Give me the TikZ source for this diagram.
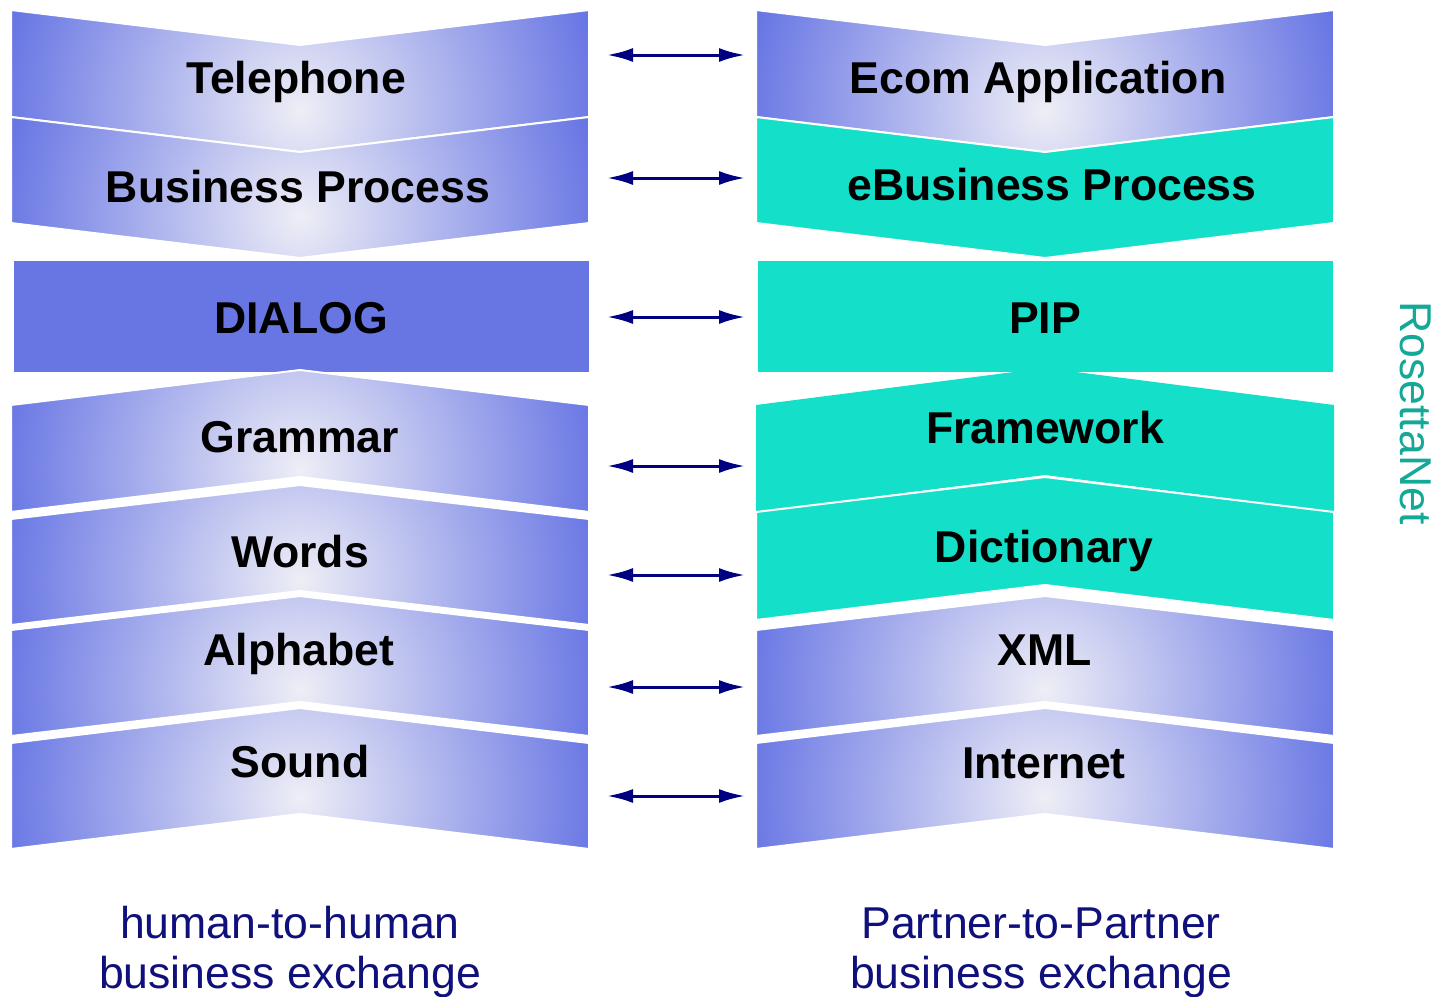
\documentclass[tikz,border=0pt]{standalone}
\usepackage{fontspec}
\setmainfont{Liberation Sans}
\usetikzlibrary{arrows.meta}
\definecolor{layerblue}{RGB}{104,118,228}
\definecolor{layerlight}{RGB}{238,238,246}
\definecolor{rnteal}{RGB}{20,224,202}
\definecolor{rntext}{RGB}{20,168,150}
\definecolor{linknavy}{RGB}{0,0,128}
\definecolor{capblue}{RGB}{16,16,124}
\pgfdeclareradialshading{layershade}{\pgfpoint{0bp}{0bp}}%
  {color(0bp)=(layerlight); color(25bp)=(layerblue); color(50bp)=(layerblue)}
\tikzset{
  lbl/.style={anchor=base, font=\fontsize{22.3}{26}\selectfont\bfseries},
  caption/.style={anchor=base, align=center, text=capblue,
    font=\fontsize{22.3}{25}\selectfont},
  link/.style={linknavy, line width=1.5pt,
    {Latex[length=13pt,width=7pt]}-{Latex[length=13pt,width=7pt]}},
  sep/.style={draw=white, line width=1pt},
}
% chevron band: left x, side top, side bottom, apex shift
\newcommand\bandpath[4]{(#1,#2) -- ++(289,#4) -- ++(289,-#4) -- (#1+578,#3)
  -- ++(-289,#4) -- ++(-289,-#4) -- cycle}
% shaded band: same, plus centre y of the shading
\newcommand\shadedband[5]{%
  \fill[layerblue] \bandpath{#1}{#2}{#3}{#4};
  \begin{scope}
    \clip \bandpath{#1}{#2}{#3}{#4};
    \shade[shading=layershade] (#1-11,#5-300) rectangle (#1+589,#5+300);
  \end{scope}
  \draw[sep] \bandpath{#1}{#2}{#3}{#4};}

\begin{document}
\begin{tikzpicture}[x=0.5pt, y=-0.5pt]
\useasboundingbox (0,0) rectangle (1437,997);

% human side
\shadedband{11}{10}{117}{35}{110}
\shadedband{11}{117}{223}{35}{216}
\fill[layerblue] (14,261) rectangle (589,372);
\shadedband{11}{405}{512}{-35}{470}
\shadedband{11}{519}{625}{-34}{580}
\shadedband{11}{630}{736}{-34}{690}
\shadedband{11}{743}{849}{-35}{797}

% partner side
\shadedband{756}{10}{117}{35}{110}
\fill[rnteal, sep] \bandpath{756}{117}{223}{35};
\fill[rnteal] (758,261) rectangle (1333,372);
\fill[rnteal] \bandpath{756}{405}{512}{-37};
\fill[rnteal, sep] \bandpath{756}{512}{620}{-35};
\shadedband{756}{630}{736}{-34}{690}
\shadedband{756}{743}{849}{-35}{797}

\node[lbl] (tel) at (296,93) {Telephone};
\node[lbl] (bp) at (298,202) {Business Process};
\node[lbl] (dialog) at (301,333) {DIALOG};
\node[lbl] (gram) at (300,452) {Grammar};
\node[lbl] (words) at (300,567) {Words};
\node[lbl] (alpha) at (299,665) {Alphabet};
\node[lbl] (sound) at (300,777) {Sound};

\node[lbl] (ecom) at (1038,93) {Ecom Application};
\node[lbl] (ebp) at (1052,200) {eBusiness Process};
\node[lbl] (pip) at (1045,333) {PIP};
\node[lbl] (frame) at (1045,443) {Framework};
\node[lbl] (dict) at (1044,562) {Dictionary};
\node[lbl] (xml) at (1045,665) {XML};
\node[lbl] (inet) at (1044,778) {Internet};

\foreach \y [count=\i] in {55,178,317,466,575,687,796} {
  \coordinate (l\i) at (607,\y);
  \coordinate (r\i) at (745,\y);
  \draw[link] (l\i) -- (r\i);
}

\node[caption] (human) at (290,988) {human-to-human\\business exchange};
\node[caption] (partner) at (1041,988) {Partner-to-Partner\\business exchange};
\node[rotate=-90, text=rntext, font=\fontsize{22.3}{26}\selectfont]
  (rn) at (1416,413) {RosettaNet};
\end{tikzpicture}
\end{document}
